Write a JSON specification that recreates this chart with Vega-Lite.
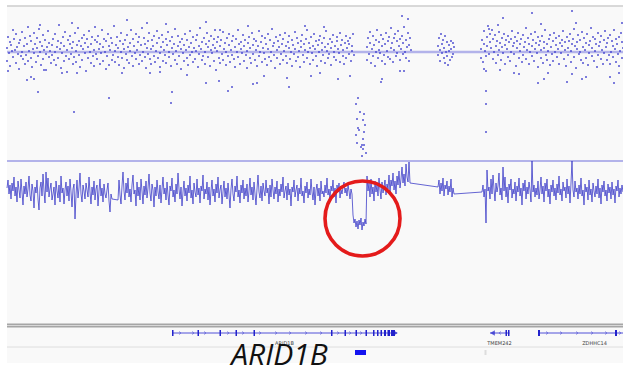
{
"$schema":"https://vega.github.io/schema/vega-lite/v6.json",
"width":623,"height":369,"padding":0,"autosize":{"type":"none"},
"background":"white",
"config":{"view":{"stroke":null}},
"datasets":{
"snp":[
{"p":0,"v":4},{"p":0,"v":-9},{"p":1,"v":15},{"p":2,"v":-1},{"p":3,"v":10},{"p":3,"v":-14},{"p":4,"v":7},{"p":5,"v":1},{"p":6,"v":22},{"p":6,"v":-5},{"p":7,"v":13},{"p":8,"v":2},{"p":9,"v":-11},{"p":9,"v":18},{"p":10,"v":5},{"p":11,"v":-2},{"p":12,"v":9},{"p":12,"v":-17},{"p":13,"v":12},{"p":14,"v":-4},{"p":15,"v":0},{"p":15,"v":20},{"p":16,"v":-7},{"p":17,"v":6},{"p":18,"v":-12},{"p":18,"v":14},{"p":19,"v":-3},{"p":20,"v":8},{"p":21,"v":25},{"p":21,"v":-9},{"p":22,"v":1},{"p":23,"v":16},{"p":24,"v":-6},{"p":24,"v":11},{"p":25,"v":-15},{"p":26,"v":3},{"p":27,"v":-1},{"p":27,"v":19},{"p":28,"v":8},{"p":29,"v":-10},
{"p":30,"v":4},{"p":30,"v":14},{"p":31,"v":-4},{"p":32,"v":23},{"p":33,"v":0},{"p":33,"v":10},{"p":34,"v":-13},{"p":35,"v":6},{"p":36,"v":-7},{"p":36,"v":17},{"p":37,"v":2},{"p":38,"v":12},{"p":39,"v":-2},{"p":39,"v":-18},{"p":40,"v":5},{"p":41,"v":21},{"p":42,"v":-5},{"p":42,"v":9},{"p":43,"v":1},{"p":44,"v":-11},{"p":45,"v":7},{"p":45,"v":-3},{"p":46,"v":13},{"p":47,"v":-8},{"p":48,"v":18},{"p":48,"v":0},{"p":49,"v":-13},{"p":50,"v":5},{"p":51,"v":11},{"p":51,"v":-6},{"p":52,"v":27},{"p":53,"v":3},{"p":54,"v":-16},{"p":54,"v":9},{"p":55,"v":-1},{"p":56,"v":15},{"p":57,"v":-9},{"p":57,"v":6},{"p":58,"v":20},{"p":59,"v":-4},
{"p":60,"v":2},{"p":60,"v":-20},{"p":61,"v":12},{"p":62,"v":-7},{"p":63,"v":8},{"p":63,"v":16},{"p":64,"v":-2},{"p":65,"v":4},{"p":66,"v":-12},{"p":66,"v":10},{"p":67,"v":-5},{"p":68,"v":19},{"p":69,"v":1},{"p":69,"v":-10},{"p":70,"v":7},{"p":71,"v":24},{"p":72,"v":-3},{"p":72,"v":11},{"p":73,"v":-15},{"p":74,"v":6},{"p":75,"v":14},{"p":75,"v":-8},{"p":76,"v":3},{"p":77,"v":17},{"p":78,"v":-1},{"p":78,"v":9},{"p":79,"v":-19},{"p":80,"v":13},{"p":81,"v":-6},{"p":81,"v":5},{"p":82,"v":21},{"p":83,"v":0},{"p":84,"v":-11},{"p":84,"v":8},{"p":85,"v":15},{"p":86,"v":-4},{"p":87,"v":2},{"p":87,"v":-14},{"p":88,"v":12},{"p":89,"v":-2},
{"p":90,"v":10},{"p":90,"v":-7},{"p":91,"v":16},{"p":92,"v":3},{"p":93,"v":-12},{"p":93,"v":8},{"p":94,"v":-1},{"p":95,"v":22},{"p":96,"v":5},{"p":96,"v":-9},{"p":97,"v":13},{"p":98,"v":0},{"p":99,"v":-17},{"p":99,"v":11},{"p":100,"v":-4},{"p":101,"v":18},{"p":102,"v":6},{"p":102,"v":-13},{"p":103,"v":2},{"p":104,"v":14},{"p":105,"v":-8},{"p":105,"v":9},{"p":106,"v":-3},{"p":107,"v":26},{"p":108,"v":1},{"p":108,"v":-10},{"p":109,"v":7},{"p":110,"v":15},{"p":111,"v":-5},{"p":111,"v":4},{"p":112,"v":-13},{"p":113,"v":11},{"p":114,"v":0},{"p":114,"v":19},{"p":115,"v":-6},{"p":116,"v":8},{"p":117,"v":3},{"p":117,"v":-16},{"p":118,"v":12},{"p":119,"v":-2},
{"p":120,"v":17},{"p":120,"v":-8},{"p":121,"v":5},{"p":122,"v":-11},{"p":123,"v":9},{"p":123,"v":1},{"p":124,"v":22},{"p":125,"v":-4},{"p":126,"v":13},{"p":126,"v":-14},{"p":127,"v":6},{"p":128,"v":-1},{"p":129,"v":18},{"p":129,"v":-7},{"p":130,"v":2},{"p":131,"v":10},{"p":132,"v":-12},{"p":132,"v":15},{"p":133,"v":-3},{"p":134,"v":7},{"p":135,"v":24},{"p":135,"v":-9},{"p":136,"v":0},{"p":137,"v":14},{"p":138,"v":-5},{"p":138,"v":8},{"p":139,"v":-16},{"p":140,"v":4},{"p":141,"v":11},{"p":141,"v":-2},{"p":142,"v":19},{"p":143,"v":-7},{"p":144,"v":3},{"p":144,"v":-12},{"p":145,"v":12},{"p":146,"v":6},{"p":147,"v":-4},{"p":147,"v":16},{"p":148,"v":-10},{"p":149,"v":1},
{"p":150,"v":9},{"p":150,"v":21},{"p":151,"v":-6},{"p":152,"v":14},{"p":153,"v":-1},{"p":153,"v":-15},{"p":154,"v":5},{"p":155,"v":17},{"p":156,"v":-9},{"p":156,"v":10},{"p":157,"v":2},{"p":158,"v":-3},{"p":159,"v":13},{"p":159,"v":-11},{"p":160,"v":7},{"p":161,"v":20},{"p":162,"v":-5},{"p":162,"v":0},{"p":163,"v":11},{"p":164,"v":-14},{"p":165,"v":4},{"p":165,"v":15},{"p":166,"v":-2},{"p":167,"v":8},{"p":168,"v":-8},{"p":168,"v":23},{"p":169,"v":1},{"p":170,"v":-12},{"p":171,"v":16},{"p":171,"v":6},{"p":172,"v":-4},{"p":173,"v":10},{"p":174,"v":-17},{"p":174,"v":3},{"p":175,"v":13},{"p":176,"v":-1},{"p":177,"v":7},{"p":177,"v":-9},{"p":178,"v":18},{"p":179,"v":2},
{"p":180,"v":-6},{"p":180,"v":12},{"p":181,"v":-13},{"p":182,"v":5},{"p":183,"v":21},{"p":183,"v":-3},{"p":184,"v":9},{"p":185,"v":0},{"p":186,"v":-10},{"p":186,"v":15},{"p":187,"v":4},{"p":188,"v":-7},{"p":189,"v":12},{"p":189,"v":1},{"p":190,"v":17},{"p":191,"v":-15},{"p":192,"v":6},{"p":192,"v":-2},{"p":193,"v":24},{"p":194,"v":3},{"p":195,"v":-8},{"p":195,"v":10},{"p":196,"v":-4},{"p":197,"v":14},{"p":198,"v":0},{"p":198,"v":-12},{"p":199,"v":8},{"p":200,"v":19},{"p":201,"v":-5},{"p":201,"v":5},{"p":202,"v":11},{"p":203,"v":-14},{"p":204,"v":2},{"p":204,"v":16},{"p":205,"v":-1},{"p":206,"v":7},{"p":207,"v":-9},{"p":207,"v":13},{"p":208,"v":4},{"p":209,"v":-18},
{"p":210,"v":10},{"p":210,"v":1},{"p":211,"v":15},{"p":212,"v":-6},{"p":213,"v":6},{"p":213,"v":-11},{"p":214,"v":12},{"p":215,"v":-2},{"p":216,"v":20},{"p":216,"v":-8},{"p":217,"v":3},{"p":218,"v":9},{"p":219,"v":-13},{"p":219,"v":0},{"p":220,"v":14},{"p":221,"v":-4},{"p":222,"v":7},{"p":222,"v":18},{"p":223,"v":-10},{"p":224,"v":2},{"p":225,"v":11},{"p":225,"v":-3},{"p":226,"v":16},{"p":227,"v":-7},{"p":228,"v":5},{"p":228,"v":-15},{"p":229,"v":13},{"p":230,"v":0},{"p":231,"v":-5},{"p":231,"v":22},{"p":232,"v":8},{"p":233,"v":-12},{"p":234,"v":3},{"p":234,"v":10},{"p":235,"v":-1},{"p":236,"v":17},{"p":237,"v":-9},{"p":237,"v":6},{"p":238,"v":12},{"p":239,"v":-3},
{"p":240,"v":1},{"p":240,"v":-16},{"p":241,"v":9},{"p":242,"v":15},{"p":243,"v":-6},{"p":243,"v":4},{"p":244,"v":-11},{"p":245,"v":19},{"p":246,"v":7},{"p":246,"v":-2},{"p":247,"v":13},{"p":248,"v":-8},{"p":249,"v":2},{"p":249,"v":11},{"p":250,"v":-14},{"p":251,"v":6},{"p":252,"v":21},{"p":252,"v":-4},{"p":253,"v":0},{"p":254,"v":10},{"p":255,"v":-10},{"p":255,"v":16},{"p":256,"v":4},{"p":257,"v":-1},{"p":258,"v":14},{"p":258,"v":-7},{"p":259,"v":8},{"p":260,"v":-13},{"p":261,"v":3},{"p":261,"v":18},{"p":262,"v":-5},{"p":263,"v":12},{"p":264,"v":0},{"p":264,"v":-9},{"p":265,"v":23},{"p":266,"v":6},{"p":267,"v":-3},{"p":267,"v":9},{"p":268,"v":-16},{"p":269,"v":15},
{"p":270,"v":2},{"p":270,"v":-6},{"p":271,"v":11},{"p":272,"v":5},{"p":273,"v":-12},{"p":273,"v":17},{"p":274,"v":-2},{"p":275,"v":8},{"p":276,"v":13},{"p":276,"v":-8},{"p":277,"v":1},{"p":278,"v":19},{"p":279,"v":-4},{"p":279,"v":6},{"p":280,"v":-11},{"p":281,"v":10},{"p":282,"v":4},{"p":282,"v":16},{"p":283,"v":-7},{"p":284,"v":0},{"p":285,"v":12},{"p":285,"v":-14},{"p":286,"v":7},{"p":287,"v":-2},{"p":288,"v":20},{"p":288,"v":3},{"p":289,"v":-9},{"p":290,"v":14},{"p":291,"v":-5},{"p":291,"v":9},{"p":292,"v":1},{"p":293,"v":-15},{"p":294,"v":11},{"p":294,"v":5},{"p":295,"v":17},{"p":296,"v":-3},{"p":297,"v":8},{"p":297,"v":-10},{"p":298,"v":2},{"p":299,"v":13},
{"p":300,"v":-6},{"p":300,"v":22},{"p":301,"v":0},{"p":302,"v":9},{"p":303,"v":-12},{"p":303,"v":4},{"p":304,"v":15},{"p":305,"v":-1},{"p":306,"v":6},{"p":306,"v":-8},{"p":307,"v":18},{"p":308,"v":3},{"p":309,"v":-4},{"p":309,"v":11},{"p":310,"v":-14},{"p":311,"v":7},{"p":312,"v":12},{"p":312,"v":0},{"p":313,"v":16},{"p":314,"v":-9},{"p":315,"v":2},{"p":315,"v":9},{"p":316,"v":-3},{"p":317,"v":14},{"p":318,"v":-11},{"p":318,"v":5},{"p":319,"v":21},{"p":320,"v":1},{"p":321,"v":8},{"p":321,"v":-6},{"p":322,"v":-2},{"p":323,"v":13},{"p":324,"v":-13},{"p":324,"v":4},{"p":325,"v":10},{"p":326,"v":17},{"p":327,"v":-5},{"p":327,"v":0},{"p":328,"v":6},{"p":329,"v":-8},
{"p":330,"v":15},{"p":330,"v":11},{"p":331,"v":3},{"p":332,"v":-1},{"p":333,"v":19},{"p":333,"v":-10},{"p":334,"v":7},{"p":335,"v":12},{"p":336,"v":-4},{"p":336,"v":2},{"p":337,"v":-12},{"p":338,"v":9},{"p":339,"v":16},{"p":339,"v":-6},{"p":340,"v":4},{"p":341,"v":11},{"p":342,"v":-2},{"p":342,"v":8},{"p":343,"v":14},{"p":344,"v":-9},{"p":345,"v":1},{"p":345,"v":6},{"p":346,"v":18},{"p":347,"v":-3},
{"p":360,"v":5},{"p":360,"v":-8},{"p":361,"v":14},{"p":362,"v":-2},{"p":363,"v":9},{"p":363,"v":20},{"p":364,"v":-11},{"p":365,"v":3},{"p":366,"v":16},{"p":366,"v":-4},{"p":367,"v":7},{"p":368,"v":-14},{"p":369,"v":0},{"p":369,"v":12},{"p":370,"v":22},{"p":371,"v":-6},{"p":372,"v":10},{"p":372,"v":2},{"p":373,"v":-1},{"p":374,"v":17},{"p":375,"v":-9},{"p":375,"v":6},{"p":376,"v":13},{"p":377,"v":-3},{"p":378,"v":8},{"p":378,"v":-12},{"p":379,"v":19},{"p":380,"v":1},{"p":381,"v":-5},{"p":381,"v":11},{"p":382,"v":15},{"p":383,"v":-7},{"p":384,"v":4},{"p":384,"v":24},{"p":385,"v":9},{"p":386,"v":-10},{"p":387,"v":2},{"p":387,"v":14},{"p":388,"v":18},{"p":389,"v":-4},{"p":390,"v":11},{"p":390,"v":-1},{"p":391,"v":21},{"p":392,"v":6},{"p":393,"v":-8},{"p":393,"v":13},{"p":394,"v":3},{"p":395,"v":16},{"p":396,"v":-2},{"p":396,"v":9},{"p":397,"v":25},{"p":398,"v":0},{"p":399,"v":12},{"p":399,"v":-6},{"p":400,"v":5},{"p":401,"v":19},{"p":402,"v":-9},{"p":402,"v":7},{"p":403,"v":14},{"p":404,"v":2},
{"p":431,"v":6},{"p":431,"v":-3},{"p":432,"v":14},{"p":433,"v":2},{"p":433,"v":-9},{"p":434,"v":18},{"p":435,"v":-1},{"p":435,"v":8},{"p":436,"v":12},{"p":437,"v":-6},{"p":437,"v":4},{"p":438,"v":16},{"p":438,"v":-11},{"p":439,"v":0},{"p":440,"v":10},{"p":440,"v":-4},{"p":441,"v":-13},{"p":442,"v":7},{"p":442,"v":1},{"p":443,"v":-8},{"p":444,"v":3},{"p":444,"v":11},{"p":445,"v":-5},{"p":446,"v":9},{"p":446,"v":-2},{"p":447,"v":5},
{"p":474,"v":3},{"p":474,"v":-6},{"p":475,"v":12},{"p":476,"v":-10},{"p":477,"v":8},{"p":477,"v":21},{"p":478,"v":1},{"p":479,"v":-4},{"p":480,"v":15},{"p":480,"v":6},{"p":481,"v":26},{"p":482,"v":-2},{"p":483,"v":10},{"p":483,"v":18},{"p":484,"v":4},{"p":485,"v":22},{"p":486,"v":-7},{"p":486,"v":13},{"p":487,"v":0},{"p":488,"v":17},{"p":489,"v":6},{"p":489,"v":-11},{"p":490,"v":11},{"p":491,"v":-3},{"p":492,"v":20},{"p":492,"v":2},{"p":493,"v":9},{"p":494,"v":-8},{"p":495,"v":14},{"p":495,"v":5},{"p":496,"v":-1},{"p":497,"v":18},{"p":498,"v":-12},{"p":498,"v":7},{"p":499,"v":12},{"p":500,"v":3},{"p":501,"v":-5},{"p":501,"v":16},{"p":502,"v":10},{"p":503,"v":-9},
{"p":504,"v":0},{"p":504,"v":13},{"p":505,"v":21},{"p":506,"v":6},{"p":507,"v":-2},{"p":507,"v":9},{"p":508,"v":15},{"p":509,"v":-14},{"p":510,"v":4},{"p":510,"v":11},{"p":511,"v":19},{"p":512,"v":-6},{"p":513,"v":8},{"p":513,"v":1},{"p":514,"v":13},{"p":515,"v":-10},{"p":516,"v":17},{"p":516,"v":-3},{"p":517,"v":5},{"p":518,"v":10},{"p":519,"v":-7},{"p":519,"v":24},{"p":520,"v":2},{"p":521,"v":14},{"p":522,"v":-12},{"p":522,"v":8},{"p":523,"v":0},{"p":524,"v":18},{"p":525,"v":6},{"p":525,"v":-4},{"p":526,"v":12},{"p":527,"v":-9},{"p":528,"v":3},{"p":528,"v":20},{"p":529,"v":9},{"p":530,"v":-1},{"p":531,"v":15},{"p":531,"v":-15},{"p":532,"v":7},{"p":533,"v":11},
{"p":534,"v":-6},{"p":534,"v":2},{"p":535,"v":16},{"p":536,"v":-11},{"p":537,"v":10},{"p":537,"v":4},{"p":538,"v":22},{"p":539,"v":-3},{"p":540,"v":8},{"p":540,"v":-8},{"p":541,"v":1},{"p":542,"v":13},{"p":543,"v":-13},{"p":543,"v":17},{"p":544,"v":5},{"p":545,"v":-2},{"p":546,"v":11},{"p":546,"v":-9},{"p":547,"v":19},{"p":548,"v":0},{"p":549,"v":7},{"p":549,"v":14},{"p":550,"v":-5},{"p":551,"v":3},{"p":552,"v":16},{"p":552,"v":-12},{"p":553,"v":9},{"p":554,"v":-1},{"p":555,"v":12},{"p":555,"v":6},{"p":556,"v":21},{"p":557,"v":-7},{"p":558,"v":2},{"p":558,"v":10},{"p":559,"v":-14},{"p":560,"v":15},{"p":561,"v":4},{"p":561,"v":-3},{"p":562,"v":11},{"p":563,"v":18},
{"p":564,"v":-10},{"p":564,"v":1},{"p":565,"v":8},{"p":566,"v":13},{"p":567,"v":-5},{"p":567,"v":23},{"p":568,"v":6},{"p":569,"v":-16},{"p":570,"v":10},{"p":570,"v":3},{"p":571,"v":17},{"p":572,"v":-2},{"p":573,"v":0},{"p":573,"v":12},{"p":574,"v":-8},{"p":575,"v":20},{"p":576,"v":5},{"p":576,"v":-11},{"p":577,"v":14},{"p":578,"v":2},{"p":579,"v":-6},{"p":579,"v":9},{"p":580,"v":18},{"p":581,"v":-13},{"p":582,"v":7},{"p":582,"v":-1},{"p":583,"v":11},{"p":584,"v":24},{"p":585,"v":-4},{"p":585,"v":4},{"p":586,"v":15},{"p":587,"v":-9},{"p":588,"v":1},{"p":588,"v":13},{"p":589,"v":8},{"p":590,"v":-15},{"p":591,"v":19},{"p":591,"v":-3},{"p":592,"v":6},{"p":593,"v":10},
{"p":594,"v":-7},{"p":594,"v":16},{"p":595,"v":2},{"p":596,"v":-12},{"p":597,"v":12},{"p":597,"v":-1},{"p":598,"v":21},{"p":599,"v":5},{"p":600,"v":-8},{"p":600,"v":9},{"p":601,"v":14},{"p":602,"v":-3},{"p":603,"v":17},{"p":603,"v":-12},{"p":604,"v":0},{"p":605,"v":11},{"p":606,"v":-5},{"p":606,"v":6},{"p":607,"v":22},{"p":608,"v":3},{"p":609,"v":-10},{"p":609,"v":13},{"p":610,"v":8},{"p":611,"v":-2},{"p":612,"v":15},{"p":612,"v":-14},{"p":613,"v":1},{"p":614,"v":19},{"p":615,"v":-6},{"p":615,"v":10},{"p":616,"v":4},
{"p":1,"v":-19},{"p":33,"v":27},{"p":65,"v":29},{"p":88,"v":25},{"p":120,"v":32},{"p":140,"v":29},{"p":159,"v":28},{"p":199,"v":30},{"p":20,"v":-28},{"p":24,"v":-25},{"p":27,"v":-27},{"p":31,"v":-40},{"p":67,"v":-60},{"p":102,"v":-46},{"p":165,"v":-40},{"p":164,"v":-51},{"p":199,"v":-31},{"p":55,"v":-21},{"p":70,"v":-21},{"p":37,"v":-18},{"p":115,"v":-21},{"p":143,"v":-21},{"p":153,"v":-20},{"p":180,"v":-23},
{"p":241,"v":26},{"p":298,"v":26},{"p":317,"v":25},{"p":395,"v":36},{"p":401,"v":33},{"p":208,"v":22},{"p":213,"v":22},{"p":212,"v":-29},{"p":221,"v":-39},{"p":225,"v":-35},{"p":246,"v":-32},{"p":250,"v":-31},{"p":257,"v":-24},{"p":280,"v":-26},{"p":282,"v":-35},{"p":304,"v":-24},{"p":313,"v":-21},{"p":331,"v":-27},{"p":343,"v":-24},{"p":374,"v":-30},{"p":375,"v":-27},{"p":393,"v":-19},{"p":397,"v":-19},
{"p":351,"v":-46},{"p":349,"v":-52},{"p":353,"v":-60},{"p":357,"v":-62},{"p":350,"v":-67},{"p":356,"v":-68},{"p":358,"v":-73},{"p":351,"v":-76},{"p":352,"v":-78},{"p":357,"v":-80},{"p":349,"v":-83},{"p":356,"v":-87},{"p":350,"v":-91},{"p":355,"v":-93},{"p":357,"v":-93},{"p":354,"v":-95},{"p":356,"v":-97},{"p":359,"v":-101},{"p":355,"v":-104},
{"p":479,"v":-39},{"p":479,"v":-52},{"p":479,"v":-80},{"p":479,"v":-19},{"p":477,"v":-17},{"p":496,"v":34},{"p":525,"v":39},{"p":534,"v":28},{"p":565,"v":41},{"p":569,"v":29},{"p":615,"v":29},{"p":491,"v":27},{"p":482,"v":23},{"p":531,"v":-31},{"p":537,"v":-27},{"p":541,"v":-21},{"p":560,"v":-30},{"p":575,"v":-27},{"p":579,"v":-25},{"p":603,"v":-25},{"p":607,"v":-31},{"p":612,"v":-21},{"p":507,"v":-21},{"p":512,"v":-22},{"p":493,"v":-18},{"p":565,"v":-22}
],
"cov":[
{"p":0,"c":-27},{"p":1,"c":-19},{"p":2,"c":-33},{"p":3,"c":-24},{"p":4,"c":-38},{"p":5,"c":-22},{"p":6,"c":-30},{"p":7,"c":-16},{"p":8,"c":-35},{"p":9,"c":-26},{"p":10,"c":-41},{"p":11,"c":-20},{"p":12,"c":-29},{"p":13,"c":-37},{"p":14,"c":-18},{"p":15,"c":-31},{"p":16,"c":-44},{"p":17,"c":-25},{"p":18,"c":-33},{"p":19,"c":-21},
{"p":20,"c":-36},{"p":21,"c":-28},{"p":22,"c":-15},{"p":23,"c":-34},{"p":24,"c":-40},{"p":25,"c":-23},{"p":26,"c":-30},{"p":27,"c":-47},{"p":28,"c":-26},{"p":29,"c":-32},{"p":30,"c":-19},{"p":31,"c":-38},{"p":32,"c":-49},{"p":33,"c":-27},{"p":34,"c":-21},{"p":35,"c":-35},{"p":36,"c":-13},{"p":37,"c":-30},{"p":38,"c":-42},{"p":39,"c":-11},
{"p":40,"c":-31},{"p":41,"c":-17},{"p":42,"c":-36},{"p":43,"c":-28},{"p":44,"c":-22},{"p":45,"c":-39},{"p":46,"c":-33},{"p":47,"c":-26},{"p":48,"c":-44},{"p":49,"c":-20},{"p":50,"c":-30},{"p":51,"c":-37},{"p":52,"c":-24},{"p":53,"c":-41},{"p":54,"c":-15},{"p":55,"c":-32},{"p":56,"c":-27},{"p":57,"c":-43},{"p":58,"c":-29},{"p":59,"c":-21},
{"p":60,"c":-35},{"p":61,"c":-25},{"p":62,"c":-40},{"p":63,"c":-18},{"p":64,"c":-31},{"p":65,"c":-46},{"p":66,"c":-28},{"p":67,"c":-23},{"p":68,"c":-58},{"p":69,"c":-34},{"p":70,"c":-19},{"p":71,"c":-37},{"p":72,"c":-27},{"p":73,"c":-12},{"p":74,"c":-33},{"p":75,"c":-41},{"p":76,"c":-24},{"p":77,"c":-30},{"p":78,"c":-38},{"p":79,"c":-22},
{"p":80,"c":-29},{"p":81,"c":-36},{"p":82,"c":-16},{"p":83,"c":-31},{"p":84,"c":-43},{"p":85,"c":-26},{"p":86,"c":-34},{"p":87,"c":-20},{"p":88,"c":-39},{"p":89,"c":-28},{"p":90,"c":-24},{"p":91,"c":-45},{"p":92,"c":-30},{"p":93,"c":-18},{"p":94,"c":-35},{"p":95,"c":-27},{"p":96,"c":-41},{"p":97,"c":-23},{"p":98,"c":-33},{"p":99,"c":-37},
{"p":100,"c":-29},{"p":101,"c":-22},{"p":102,"c":-40},{"p":103,"c":-51},{"p":104,"c":-33},{"p":105,"c":-38},{"p":111,"c":-39},{"p":112,"c":-19},{"p":113,"c":-34},{"p":114,"c":-43},{"p":115,"c":-25},{"p":116,"c":-11},{"p":117,"c":-30},{"p":118,"c":-39},{"p":119,"c":-22},
{"p":120,"c":-32},{"p":121,"c":-17},{"p":122,"c":-36},{"p":123,"c":-28},{"p":124,"c":-41},{"p":125,"c":-24},{"p":126,"c":-14},{"p":127,"c":-33},{"p":128,"c":-29},{"p":129,"c":-45},{"p":130,"c":-21},{"p":131,"c":-35},{"p":132,"c":-26},{"p":133,"c":-39},{"p":134,"c":-18},{"p":135,"c":-30},{"p":136,"c":-43},{"p":137,"c":-25},{"p":138,"c":-34},{"p":139,"c":-20},
{"p":140,"c":-37},{"p":141,"c":-27},{"p":142,"c":-13},{"p":143,"c":-32},{"p":144,"c":-40},{"p":145,"c":-23},{"p":146,"c":-29},{"p":147,"c":-46},{"p":148,"c":-26},{"p":149,"c":-35},{"p":150,"c":-19},{"p":151,"c":-31},{"p":152,"c":-38},{"p":153,"c":-24},{"p":154,"c":-42},{"p":155,"c":-28},{"p":156,"c":-16},{"p":157,"c":-33},{"p":158,"c":-27},{"p":159,"c":-39},
{"p":160,"c":-21},{"p":161,"c":-34},{"p":162,"c":-44},{"p":163,"c":-25},{"p":164,"c":-30},{"p":165,"c":-17},{"p":166,"c":-36},{"p":167,"c":-29},{"p":168,"c":-41},{"p":169,"c":-23},{"p":170,"c":-33},{"p":171,"c":-12},{"p":172,"c":-28},{"p":173,"c":-38},{"p":174,"c":-26},{"p":175,"c":-45},{"p":176,"c":-31},{"p":177,"c":-20},{"p":178,"c":-35},{"p":179,"c":-27},
{"p":180,"c":-40},{"p":181,"c":-24},{"p":182,"c":-32},{"p":183,"c":-15},{"p":184,"c":-37},{"p":185,"c":-29},{"p":186,"c":-43},{"p":187,"c":-22},{"p":188,"c":-31},{"p":189,"c":-36},{"p":190,"c":-18},{"p":191,"c":-34},{"p":192,"c":-27},{"p":193,"c":-42},{"p":194,"c":-25},{"p":195,"c":-30},{"p":196,"c":-14},{"p":197,"c":-38},{"p":198,"c":-28},{"p":199,"c":-33},
{"p":200,"c":-21},{"p":201,"c":-39},{"p":202,"c":-26},{"p":203,"c":-44},{"p":204,"c":-30},{"p":205,"c":-19},{"p":206,"c":-35},{"p":207,"c":-28},{"p":208,"c":-41},{"p":209,"c":-23},{"p":210,"c":-32},{"p":211,"c":-16},{"p":212,"c":-37},{"p":213,"c":-29},{"p":214,"c":-24},{"p":215,"c":-43},{"p":216,"c":-31},{"p":217,"c":-20},{"p":218,"c":-36},{"p":219,"c":-27},
{"p":220,"c":-38},{"p":221,"c":-22},{"p":222,"c":-34},{"p":223,"c":-47},{"p":224,"c":-28},{"p":225,"c":-18},{"p":226,"c":-33},{"p":227,"c":-40},{"p":228,"c":-25},{"p":229,"c":-31},{"p":230,"c":-15},{"p":231,"c":-36},{"p":232,"c":-29},{"p":233,"c":-42},{"p":234,"c":-24},{"p":235,"c":-32},{"p":236,"c":-19},{"p":237,"c":-38},{"p":238,"c":-27},{"p":239,"c":-35},
{"p":240,"c":-23},{"p":241,"c":-41},{"p":242,"c":-30},{"p":243,"c":-17},{"p":244,"c":-34},{"p":245,"c":-26},{"p":246,"c":-39},{"p":247,"c":-21},{"p":248,"c":-33},{"p":249,"c":-44},{"p":250,"c":-28},{"p":251,"c":-14},{"p":252,"c":-31},{"p":253,"c":-37},{"p":254,"c":-25},{"p":255,"c":-40},{"p":256,"c":-22},{"p":257,"c":-30},{"p":258,"c":-35},{"p":259,"c":-19},
{"p":260,"c":-32},{"p":261,"c":-27},{"p":262,"c":-43},{"p":263,"c":-24},{"p":264,"c":-36},{"p":265,"c":-18},{"p":266,"c":-29},{"p":267,"c":-38},{"p":268,"c":-26},{"p":269,"c":-33},{"p":270,"c":-20},{"p":271,"c":-41},{"p":272,"c":-28},{"p":273,"c":-35},{"p":274,"c":-23},{"p":275,"c":-31},{"p":276,"c":-16},{"p":277,"c":-37},{"p":278,"c":-30},{"p":279,"c":-25},
{"p":280,"c":-39},{"p":281,"c":-22},{"p":282,"c":-34},{"p":283,"c":-28},{"p":284,"c":-45},{"p":285,"c":-26},{"p":286,"c":-31},{"p":287,"c":-19},{"p":288,"c":-36},{"p":289,"c":-29},{"p":290,"c":-24},{"p":291,"c":-40},{"p":292,"c":-27},{"p":293,"c":-33},{"p":294,"c":-17},{"p":295,"c":-35},{"p":296,"c":-30},{"p":297,"c":-42},{"p":298,"c":-25},{"p":299,"c":-32},
{"p":300,"c":-21},{"p":301,"c":-37},{"p":302,"c":-28},{"p":303,"c":-34},{"p":304,"c":-18},{"p":305,"c":-31},{"p":306,"c":-39},{"p":307,"c":-26},{"p":308,"c":-44},{"p":309,"c":-29},{"p":310,"c":-23},{"p":311,"c":-35},{"p":312,"c":-27},{"p":313,"c":-40},{"p":314,"c":-20},{"p":315,"c":-33},{"p":316,"c":-30},{"p":317,"c":-36},{"p":318,"c":-24},{"p":319,"c":-32},
{"p":320,"c":-17},{"p":321,"c":-34},{"p":322,"c":-28},{"p":323,"c":-38},{"p":324,"c":-25},{"p":325,"c":-30},{"p":326,"c":-19},{"p":327,"c":-36},{"p":328,"c":-27},{"p":329,"c":-42},{"p":330,"c":-24},{"p":331,"c":-31},{"p":332,"c":-22},{"p":333,"c":-37},{"p":334,"c":-29},{"p":335,"c":-33},{"p":336,"c":-26},{"p":337,"c":-21},{"p":338,"c":-32},{"p":339,"c":-27},
{"p":340,"c":-35},{"p":341,"c":-24},{"p":342,"c":-30},{"p":343,"c":-38},{"p":344,"c":-28},{"p":345,"c":-33},{"p":346,"c":-54},{"p":347,"c":-62},{"p":348,"c":-58},{"p":349,"c":-66},{"p":350,"c":-60},{"p":351,"c":-68},{"p":352,"c":-59},{"p":353,"c":-64},{"p":354,"c":-57},{"p":355,"c":-69},{"p":356,"c":-61},{"p":357,"c":-65},{"p":358,"c":-58},{"p":359,"c":-63},
{"p":360,"c":-15},{"p":361,"c":-30},{"p":362,"c":-22},{"p":363,"c":-36},{"p":364,"c":-18},{"p":365,"c":-33},{"p":366,"c":-26},{"p":367,"c":-40},{"p":368,"c":-20},{"p":369,"c":-31},{"p":370,"c":-24},{"p":371,"c":-35},{"p":372,"c":-17},{"p":373,"c":-29},{"p":374,"c":-38},{"p":375,"c":-21},{"p":376,"c":-32},{"p":377,"c":-26},{"p":378,"c":-19},{"p":379,"c":-34},
{"p":380,"c":-23},{"p":381,"c":-28},{"p":382,"c":-14},{"p":383,"c":-31},{"p":384,"c":-19},{"p":385,"c":-25},{"p":386,"c":-12},{"p":387,"c":-29},{"p":388,"c":-20},{"p":389,"c":-33},{"p":390,"c":-15},{"p":391,"c":-24},{"p":392,"c":-10},{"p":393,"c":-27},{"p":394,"c":-18},{"p":395,"c":-6},{"p":396,"c":-22},{"p":397,"c":-13},{"p":398,"c":-25},{"p":399,"c":-3},{"p":400,"c":-16},{"p":401,"c":-21},{"p":402,"c":-1},{"p":403,"c":-22},
{"p":431,"c":-26},{"p":432,"c":-19},{"p":433,"c":-33},{"p":434,"c":-22},{"p":435,"c":-30},{"p":436,"c":-17},{"p":437,"c":-35},{"p":438,"c":-24},{"p":439,"c":-28},{"p":440,"c":-20},{"p":441,"c":-34},{"p":442,"c":-25},{"p":443,"c":-31},{"p":444,"c":-18},{"p":445,"c":-36},{"p":446,"c":-27},{"p":447,"c":-33},
{"p":475,"c":-31},{"p":476,"c":-24},{"p":477,"c":-36},{"p":478,"c":-28},{"p":479,"c":-62},{"p":480,"c":-9},{"p":481,"c":-30},{"p":482,"c":-26},{"p":483,"c":-38},{"p":484,"c":-18},{"p":485,"c":-33},{"p":486,"c":-14},{"p":487,"c":-28},{"p":488,"c":-40},{"p":489,"c":-22},{"p":490,"c":-31},
{"p":491,"c":-25},{"p":492,"c":-12},{"p":493,"c":-34},{"p":494,"c":-27},{"p":495,"c":-39},{"p":496,"c":-6},{"p":497,"c":-30},{"p":498,"c":-16},{"p":499,"c":-36},{"p":500,"c":-26},{"p":501,"c":-42},{"p":502,"c":-23},{"p":503,"c":-29},{"p":504,"c":-18},{"p":505,"c":-37},{"p":506,"c":-28},{"p":507,"c":-33},{"p":508,"c":-21},{"p":509,"c":-40},{"p":510,"c":-25},
{"p":511,"c":-31},{"p":512,"c":-17},{"p":513,"c":-35},{"p":514,"c":-27},{"p":515,"c":-44},{"p":516,"c":-22},{"p":517,"c":-30},{"p":518,"c":-19},{"p":519,"c":-38},{"p":520,"c":-26},{"p":521,"c":-33},{"p":522,"c":-21},{"p":523,"c":-29},{"p":524,"c":-41},{"p":525,"c":0},{"p":526,"c":-31},{"p":527,"c":-24},{"p":528,"c":-36},{"p":529,"c":-27},{"p":530,"c":-34},
{"p":531,"c":-20},{"p":532,"c":-38},{"p":533,"c":-29},{"p":534,"c":-16},{"p":535,"c":-33},{"p":536,"c":-25},{"p":537,"c":-41},{"p":538,"c":-22},{"p":539,"c":-30},{"p":540,"c":-18},{"p":541,"c":-36},{"p":542,"c":-28},{"p":543,"c":-43},{"p":544,"c":-24},{"p":545,"c":-31},{"p":546,"c":-19},{"p":547,"c":-35},{"p":548,"c":-27},{"p":549,"c":-39},{"p":550,"c":-23},
{"p":551,"c":-32},{"p":552,"c":-15},{"p":553,"c":-34},{"p":554,"c":-28},{"p":555,"c":-40},{"p":556,"c":-21},{"p":557,"c":-30},{"p":558,"c":-26},{"p":559,"c":-37},{"p":560,"c":-18},{"p":561,"c":-33},{"p":562,"c":-25},{"p":563,"c":-42},{"p":564,"c":-22},{"p":565,"c":0},{"p":566,"c":-29},{"p":567,"c":-36},{"p":568,"c":-20},{"p":569,"c":-31},{"p":570,"c":-27},
{"p":571,"c":-38},{"p":572,"c":-24},{"p":573,"c":-33},{"p":574,"c":-17},{"p":575,"c":-35},{"p":576,"c":-29},{"p":577,"c":-44},{"p":578,"c":-23},{"p":579,"c":-31},{"p":580,"c":-26},{"p":581,"c":-39},{"p":582,"c":-19},{"p":583,"c":-34},{"p":584,"c":-28},{"p":585,"c":-41},{"p":586,"c":-22},{"p":587,"c":-30},{"p":588,"c":-36},{"p":589,"c":-25},{"p":590,"c":-33},
{"p":591,"c":-18},{"p":592,"c":-37},{"p":593,"c":-27},{"p":594,"c":-43},{"p":595,"c":-24},{"p":596,"c":-31},{"p":597,"c":-20},{"p":598,"c":-35},{"p":599,"c":-29},{"p":600,"c":-40},{"p":601,"c":-23},{"p":602,"c":-32},{"p":603,"c":-26},{"p":604,"c":-38},{"p":605,"c":-21},{"p":606,"c":-34},{"p":607,"c":-28},{"p":608,"c":-42},{"p":609,"c":-25},{"p":610,"c":-30},{"p":611,"c":-19},{"p":612,"c":-36},{"p":613,"c":-27},{"p":614,"c":-33},{"p":615,"c":-24},{"p":616,"c":-31}
],
"genes":[{"gene":"ARID1B","s":165,"e":390,"mid":277.5},{"gene":"TMEM242","s":483,"e":502.5,"mid":492.5},{"gene":"ZDHHC14","s":531,"e":616,"mid":587.5}],
"exons":[{"s":165,"e":166.5},{"s":190.5,"e":192},{"s":212.5,"e":214},{"s":228.5,"e":230},{"s":246.5,"e":248},{"s":324,"e":325.5},{"s":337.5,"e":339},{"s":348.5,"e":350},{"s":358.5,"e":360},{"s":366,"e":367.5},{"s":370,"e":371.5},{"s":373.5,"e":375},{"s":377,"e":379},{"s":380.5,"e":383},{"s":384,"e":388},{"s":498.5,"e":500},{"s":501,"e":502.5},{"s":531,"e":533},{"s":608,"e":610}],
"plusmarks":[{"p":173},{"p":186},{"p":198},{"p":221},{"p":236},{"p":253},{"p":269},{"p":283},{"p":299},{"p":314},{"p":331},{"p":343},{"p":354},{"p":540},{"p":554},{"p":570},{"p":585},{"p":599},{"p":613}],
"minusmarks":[{"p":493}]
},
"layer":[
{"layer":[
{"data":{"values":[{"p":0,"p2":616,"t":6.5,"t2":363}]},"mark":{"type":"rect","color":"#f9f9f9"},
"encoding":{"x":{"field":"p","type":"quantitative","scale":{"domain":[-7,616],"nice":false,"zero":false},"axis":null},"x2":{"field":"p2"},
"y":{"field":"t","type":"quantitative","scale":{"domain":[0,369],"reverse":true,"nice":false,"zero":false},"axis":null},"y2":{"field":"t2"}}},
{"data":{"values":[{"p":0,"p2":616,"t":6}]},"mark":{"type":"rule","color":"#cdcdcd","strokeWidth":1.5},
"encoding":{"x":{"field":"p","type":"quantitative"},"x2":{"field":"p2"},"y":{"field":"t","type":"quantitative"}}},
{"data":{"values":[{"p":0,"p2":616,"t":323.5,"t2":327.5}]},"mark":{"type":"rect","color":"#a6a6a6"},
"encoding":{"x":{"field":"p","type":"quantitative"},"x2":{"field":"p2"},"y":{"field":"t","type":"quantitative"},"y2":{"field":"t2"}}},
{"data":{"values":[{"p":0,"p2":616,"t":325.5}]},"mark":{"type":"rule","color":"#d8d8d8","strokeWidth":1},
"encoding":{"x":{"field":"p","type":"quantitative"},"x2":{"field":"p2"},"y":{"field":"t","type":"quantitative"}}},
{"data":{"values":[{"p":0,"p2":616,"t":347}]},"mark":{"type":"rule","color":"#dedede","strokeWidth":1},
"encoding":{"x":{"field":"p","type":"quantitative"},"x2":{"field":"p2"},"y":{"field":"t","type":"quantitative"}}}
]},
{"layer":[
{"data":{"values":[{"p":0,"p2":616,"v":0}]},"mark":{"type":"rule","color":"#b3b3ea","strokeWidth":2.5},
"encoding":{"x":{"field":"p","type":"quantitative","scale":{"domain":[-7,616],"nice":false,"zero":false},"axis":null},"x2":{"field":"p2"},
"y":{"field":"v","type":"quantitative","scale":{"domain":[-317,52],"nice":false,"zero":false},"axis":null}}},
{"data":{"name":"snp"},"mark":{"type":"point","shape":"square","filled":true,"size":4,"color":"#3a3acc","opacity":0.65},
"encoding":{"x":{"field":"p","type":"quantitative"},"y":{"field":"v","type":"quantitative"}}}
]},
{"layer":[
{"data":{"values":[{"p":0,"p2":616,"c":0}]},"mark":{"type":"rule","color":"#b3b3ea","strokeWidth":2},
"encoding":{"x":{"field":"p","type":"quantitative","scale":{"domain":[-7,616],"nice":false,"zero":false},"axis":null},"x2":{"field":"p2"},
"y":{"field":"c","type":"quantitative","scale":{"domain":[-208,161],"nice":false,"zero":false},"axis":null}}},
{"data":{"name":"cov"},"mark":{"type":"line","color":"#3333c6","strokeWidth":1,"opacity":0.75},
"encoding":{"x":{"field":"p","type":"quantitative"},"y":{"field":"c","type":"quantitative"}}}
]},
{"layer":[
{"data":{"name":"genes"},"mark":{"type":"rule","color":"#5050d8","strokeWidth":1},
"encoding":{"x":{"field":"s","type":"quantitative","scale":{"domain":[-7,616],"nice":false,"zero":false},"axis":null},"x2":{"field":"e"},
"y":{"datum":333,"type":"quantitative","scale":{"domain":[0,369],"reverse":true,"nice":false,"zero":false},"axis":null}}},
{"data":{"name":"exons"},"mark":{"type":"rect","color":"#2222cc"},
"encoding":{"x":{"field":"s","type":"quantitative"},"x2":{"field":"e"},"y":{"datum":330,"type":"quantitative"},"y2":{"datum":336}}},
{"data":{"name":"plusmarks"},"mark":{"type":"point","shape":"M-0.6,-1L0.6,0L-0.6,1","filled":false,"size":9,"strokeWidth":0.8,"color":"#3c3cd0"},
"encoding":{"x":{"field":"p","type":"quantitative"},"y":{"datum":333,"type":"quantitative"}}},
{"data":{"name":"minusmarks"},"mark":{"type":"point","shape":"M0.6,-1L-0.6,0L0.6,1","filled":false,"size":9,"strokeWidth":0.8,"color":"#3c3cd0"},
"encoding":{"x":{"field":"p","type":"quantitative"},"y":{"datum":333,"type":"quantitative"}}},
{"data":{"values":[{"p":388.5,"dir":"right"}]},"mark":{"type":"point","shape":"triangle-right","filled":true,"size":30,"color":"#2222cc"},
"encoding":{"x":{"field":"p","type":"quantitative"},"y":{"datum":333,"type":"quantitative"}}},
{"data":{"values":[{"p":485.5,"dir":"left"}]},"mark":{"type":"point","shape":"triangle-left","filled":true,"size":30,"color":"#2222cc"},
"encoding":{"x":{"field":"p","type":"quantitative"},"y":{"datum":333,"type":"quantitative"}}},
{"data":{"name":"genes"},"mark":{"type":"text","fontSize":5,"color":"#444444","font":"DejaVu Sans","baseline":"middle"},
"encoding":{"x":{"field":"mid","type":"quantitative"},"y":{"datum":342.5,"type":"quantitative"},"text":{"field":"gene"}}},
{"data":{"values":[{"s":348,"e":359}]},"mark":{"type":"rect","color":"#1414f0"},
"encoding":{"x":{"field":"s","type":"quantitative"},"x2":{"field":"e"},"y":{"datum":350,"type":"quantitative"},"y2":{"datum":355}}},
{"data":{"values":[{"s":477.5,"e":479.5}]},"mark":{"type":"rect","color":"#dddddd"},
"encoding":{"x":{"field":"s","type":"quantitative"},"x2":{"field":"e"},"y":{"datum":350,"type":"quantitative"},"y2":{"datum":355}}},
{"data":{"values":[{"p":272.5,"label":"ARID1B"}]},"mark":{"type":"text","font":"Open Sans","fontStyle":"italic","fontSize":30,"color":"#111111","align":"center","baseline":"alphabetic"},
"encoding":{"x":{"field":"p","type":"quantitative"},"y":{"datum":364.5,"type":"quantitative"},"text":{"field":"label"}}},
{"data":{"values":[{"p":355.5,"t":218.5}]},"mark":{"type":"point","shape":"circle","filled":false,"size":5625,"strokeWidth":3.6,"color":"#e41b1b","opacity":1},
"encoding":{"x":{"field":"p","type":"quantitative"},"y":{"field":"t","type":"quantitative"}}}
]}
],
"resolve":{"scale":{"y":"independent"}}
}
